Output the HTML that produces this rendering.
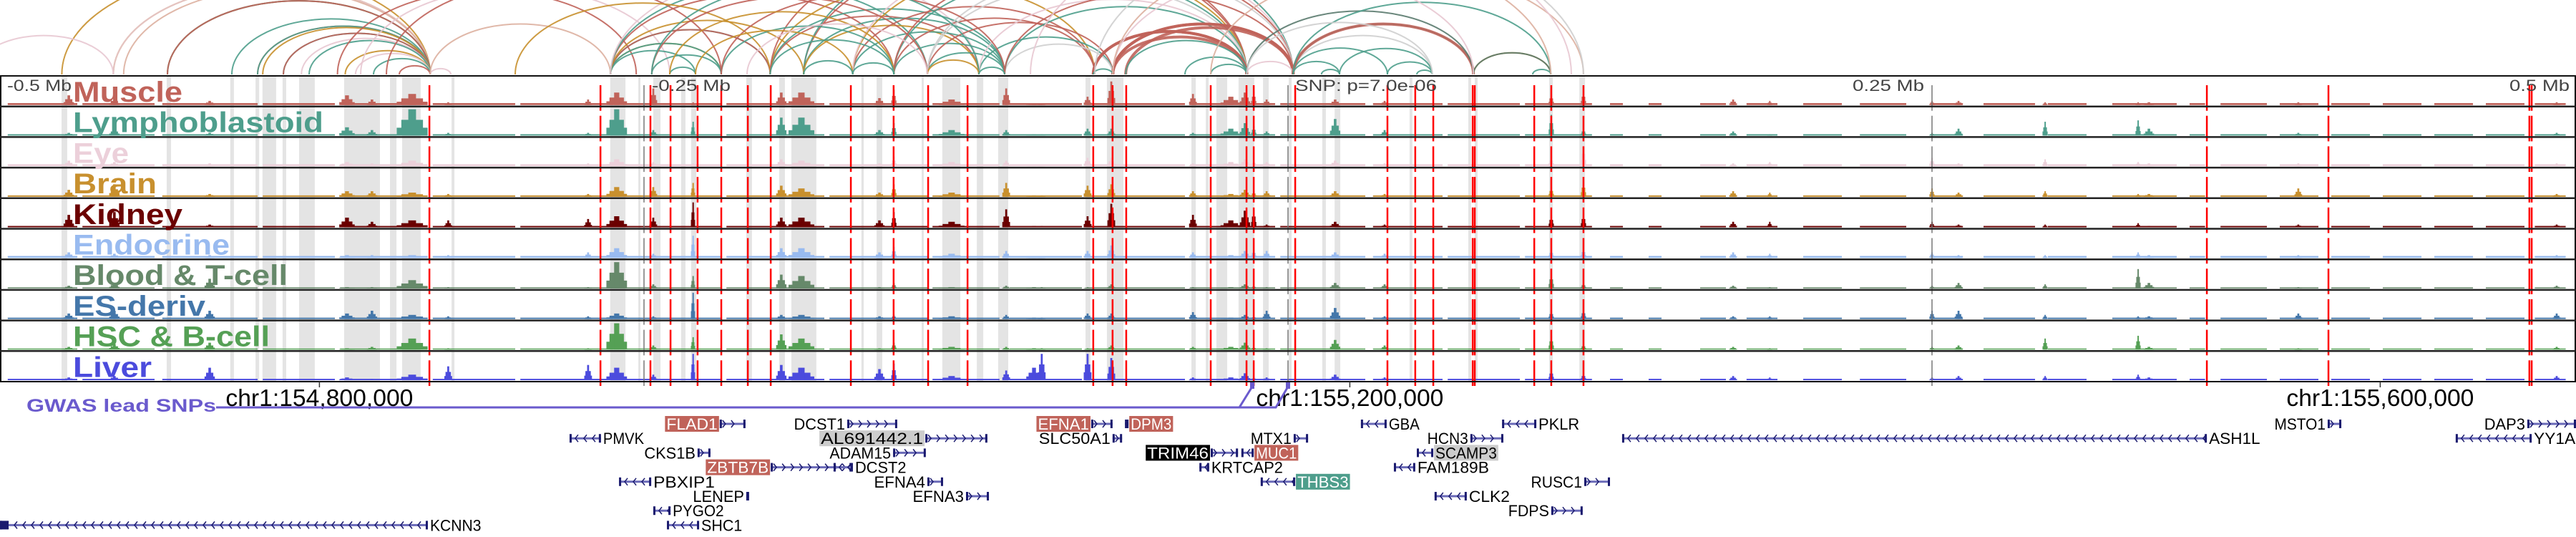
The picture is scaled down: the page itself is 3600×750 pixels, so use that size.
<!DOCTYPE html>
<html><head><meta charset="utf-8">
<style>
html,body{margin:0;padding:0;background:#fff;}
svg{display:block;font-family:"Liberation Sans",sans-serif;}
</style></head>
<body>
<svg id="fig" width="3600" height="750" viewBox="0 0 3600 750" xmlns="http://www.w3.org/2000/svg">
<defs><clipPath id="arcClip"><rect x="0" y="0" width="3600" height="105"/></clipPath></defs>
<g id="arcs" clip-path="url(#arcClip)"></g>
<g id="shade"></g>
<g id="tracks"></g>
<g id="snps"></g>
<g id="frame"></g>
<g id="labels"></g>
<g id="axis"></g>
<g id="genes"></g>
</svg>
<script>
// ---- data (genomic positions in kb relative to the lead SNP) ----
const trackNames = ["Muscle","Lymphoblastoid","Eye","Brain","Kidney","Endocrine","Blood & T-cell","ES-deriv","HSC & B-cell","Liver"];
const trackColors = ["#c0635a","#4e9e8c","#ecd0da","#c8902e","#6b0000","#99bbf0","#66896a","#4477aa","#55a055","#4b4bdd"];
const labelWidths = [153,350,78,117,153,219,300,185,275,110];
const bgLevel = [0.07,0.05,0.07,0.05,0.05,0.07,0.04,0.05,0.04,0.05];
const bgSegments = [[-497,-470],[-468,-440],[-437,-400],[-398,-370],[-368,-334],[-332,-300],[-298,-262],[-258,-220],[-218,-180],[-178,-140],[-138,-112],[-108,-80],[-78,-40],[-38,-5],[-3,30],[33,60],[62,90],[92,118],
 [125,130],[140,145],[160,170],[178,190],[200,215],[222,240],[250,262],[270,290],[295,310],[320,345],[350,356],[362,380],[385,400],[405,420],[425,440],[445,460],[465,480],[484,496]];
const peakPos = [-473.3,-455.6,-418.6,-365.3,-355.6,-340,-326,-271.7,-260.6,-246.4,-231,-196.7,-188.9,-158.6,-153,-130.6,-109.4,-98.6,-95.6,-77.8,-68.6,-36.9,-22.2,-16.7,-13.3,-8.3,18.3,37.5,102.2,114.7,172.8,187,250,260.3,293.9,330,334.2,392.2,492.5];
const peakWidth = [2,2,2,3,2,6,1.5,1.5,4,1.5,0.8,2,5,2,1,5,1.5,3,1.5,1.5,1.5,1.5,4,2,1,1.5,2,1.5,1,1,1.5,1,1,1.5,1,1,2,1.5,1.5];
const peakHeights = [
[.35,.1,.2,.25,.45,.2,.1,.2,.1,.1],
[.25,.25,.15,.45,.55,.15,.2,.3,.2,.15],
[.15,.1,.1,.1,.1,.1,.35,.3,.25,.45],
[.35,.3,.15,.2,.35,.1,.05,.2,.05,.1],
[.2,.2,.1,.2,.2,.1,.05,.3,.1,.05],
[.4,.95,.2,.15,.25,.1,.3,.15,.4,.2],
[.1,.1,.05,.1,.25,.1,.05,.1,.05,.5],
[.2,.1,.1,.1,.3,.2,.05,.1,.05,.55],
[.45,.95,.25,.35,.4,.35,.95,.2,.95,.45],
[.6,.2,.15,.35,.35,.15,.15,.1,.15,.2],
[.1,.5,.1,.5,.9,.8,.45,.95,.45,.95],
[.45,.65,.25,.4,.35,.35,.5,.15,.55,.55],
[.45,.65,.2,.3,.35,.35,.45,.15,.4,.45],
[.25,.2,.1,.15,.25,.2,.05,.1,.05,.4],
[.55,.45,.35,.45,.55,.4,.2,.15,.25,.6],
[.2,.2,.15,.15,.2,.15,.05,.1,.1,.15],
[.6,.2,.2,.5,.65,.25,.1,.15,.1,.35],
[.05,.05,.05,.05,.05,.05,.05,.05,.05,.45],
[.05,.05,.05,.05,.05,.05,.05,.05,.05,.95],
[.3,.25,.3,.4,.4,.25,.05,.2,.05,.95],
[.85,.25,.3,.45,.85,.45,.15,.2,.15,.8],
[.4,.1,.1,.2,.45,.2,.05,.25,.1,.1],
[.3,.25,.15,.1,.25,.1,.05,.05,.1,.1],
[.45,.45,.25,.25,.6,.25,.15,.15,.25,.25],
[.5,.35,.2,.2,.65,.3,.1,.1,.1,.1],
[.2,.15,.15,.2,.1,.25,.05,.3,.05,.1],
[.2,.6,.2,.2,.2,.2,.2,.4,.35,.2],
[.15,.2,.1,.1,.1,.15,.15,.1,.15,.1],
[.4,.75,.35,.35,.45,.3,.55,.3,.5,.4],
[.5,.25,.75,.55,.5,.35,.2,.35,.2,.25],
[.2,.15,.1,.2,.2,.2,.1,.1,.1,.15],
[.15,.05,.15,.15,.2,.15,.05,.1,.05,.1],
[.15,.1,.3,.3,.2,.2,.1,.3,.1,.1],
[.15,.25,.1,.15,.1,.1,.2,.3,.15,.15],
[.1,.5,.25,.2,.1,.1,.15,.15,.4,.15],
[.1,.55,.15,.1,.15,.2,.7,.1,.5,.2],
[.1,.25,.1,.1,.05,.1,.2,.1,.1,.1],
[.1,.1,.1,.3,.1,.1,.05,.2,.05,.05],
[.1,.1,.1,.1,.1,.1,.1,.2,.1,.15]];
const snpPos = [-333.3,-266.9,-247.5,-239.7,-229.2,-220,-209.7,-200.8,-169.7,-153.1,-139.7,-124.4,-75.6,-68.1,-62.8,-30,-16.1,-13.3,2.8,38.6,49.4,56.4,71.7,72.5,95.6,102.2,114.7,356.7,403.9,481.9,482.8];
const refLines = [-250,0,250];
const shadeRanges = [[-476.1,-473.9],[-435.3,-433.6],[-410.6,-409.2],[-400.8,-399.4],[-398.1,-392.8],[-390.3,-388.9],[-383.9,-377.8],[-366.4,-352.5],[-348.6,-346.1],[-343.9,-336.7],[-324.7,-323.6],[-263.1,-257.2],[-252.2,-251.4],[-246.4,-243.6],[-235.6,-233.9],[-231.7,-229.7],[-210.3,-208.1],[-197.5,-195.3],[-192.8,-183.1],[-165.6,-164.7],[-159.7,-157.5],[-142.2,-141.4],[-134.2,-127.2],[-120.8,-118.3],[-112.5,-108.6],[-78.6,-76.7],[-70.3,-63.9],[-37.5,-35.8],[-31.9,-30.8],[-27.8,-23.6],[-19.2,-13.1],[-9.7,-7.5],[0.3,1.4],[13.3,14.7],[18.1,20.3],[47.2,48.3],[70,71.1],[72.5,73.6],[101.4,102.8],[113.1,115.3]];
const arcColors = ["#c0635a","#4e9e8c","#e8c8d2","#c8902e","#cfcfcf","#5a7a6e","#ddb0a0"];
const arcStart = [-476,-456,-456,-452,-435,-435,-435,-410,-400,-400,-398,-390,-390,-383,-380,-366,-362,-355,-345,-333,-333,-369,-510,-360,
 -263,-263,-263,-263,-263,-247,-240,-263,-263,-263,-263,-350,-300,
 -201,-201,-201,-201,-188,-188,-188,-188,-169,-169,-169,-169,-153,-153,-153,-153,-140,-140,-140,-140,-120,-120,-110,-110,-110,-75.6,-75.6,-68,-68,-63,-68,-63,-40,-30,-16,-220,-220,-230,-240,-247,-247,-201,-188,-169,-140,-120,-75.6,-210,
 2,2,2,2,-16,2,-30,-75,38.6,13,2,20,50,72,72,95,-16,-68,-100,-68];
const arcEnd = [-333,-333,-333,-333,-333,-333,-333,-333,-333,-333,-333,-333,-333,-333,-333,-333,-333,-333,-333,-325,-263,-253,-456,-240,
 -220,-220,-201,-201,-230,-220,-230,-188,-153,-140,-120,-220,-201,
 -120,-110,-75,-16,-16,2,-110,-120,-110,-75,-16,2,-110,-75,-16,2,-110,-68,-16,2,-68,-16,-68,-16,2,-16,-16,2,-16,2,2,-16,-16,-16,2,-153,-110,-169,-153,-140,-120,-153,-169,-153,-120,-110,-68,-140,
 56,38.6,72,72,72,102,114.7,114.7,56,20,20,56,56,102,102,102,56,72,110,102];
const arcColor = [3,3,2,6,3,1,0,1,0,1,3,1,0,2,1,3,2,1,0,2,6,0,2,2,
 3,1,1,0,1,1,1,3,0,1,2,0,3,
 0,1,3,0,0,1,1,3,1,0,3,2,1,0,1,0,1,0,4,4,1,2,4,1,0,0,0,0,0,0,0,1,1,1,2,1,0,3,3,0,1,1,1,1,3,1,1,2,
 4,1,1,0,5,1,6,4,1,1,1,1,1,3,5,1,4,2,2,6];
const geneNames = ["FLAD1","DCST1","EFNA1","DPM3","GBA","PKLR","MSTO1","DAP3","PMVK","AL691442.1","SLC50A1","MTX1","HCN3","ASH1L","YY1AP1","CKS1B","ADAM15","TRIM46","MUC1","SCAMP3","ZBTB7B","DCST2","KRTCAP2","FAM189B","PBXIP1","EFNA4","THBS3","RUSC1","LENEP","EFNA3","CLK2","PYGO2","FDPS","KCNN3","SHC1"];
const geneRow = [0,0,0,0,0,0,0,0,1,1,1,1,1,1,1,2,2,2,2,2,3,3,3,3,4,4,4,4,5,5,5,6,6,7,7];
const geneStart = [-220.6,-171.1,-76.4,-63.3,28.3,83.1,403.6,481.1,-278.9,-140.8,-68.1,2.2,70.8,129.7,453.3,-229.2,-153.3,-30,-18.1,50,-200.8,-176.4,-34.4,41.1,-259.7,-140,-10.6,115,-210.3,-125,56.9,-246.4,102.2,-500,-241.1];
const geneEnd = [-210.6,-151.7,-68.1,-61.9,38.3,96.4,408.9,500,-266.7,-116.7,-64.4,7.8,83.6,356.7,482.8,-224.2,-140.6,-19.4,-13.3,56.4,-169.4,-168.9,-30.6,49.4,-247.2,-133.9,2.8,125,-209.2,-116.1,69.4,-239.7,114.4,-333.9,-228.6];
const geneStrand = ["+","+","+","+","-","-","+","+","-","+","+","+","+","-","-","+","+","+","-","-","+","-","-","-","-","+","-","+","+","+","-","-","+","-","-"];
const geneBox = ["r","","r","r","","","","","","g","","","","","","","","k","r","g","r","","","","","","t","","","","","","","",""];
const tickPos = [-376,24,424];
const tickLabels = ["chr1:154,800,000","chr1:155,200,000","chr1:155,600,000"];

// ---- scales ----
const NS="http://www.w3.org/2000/svg";
const X0=1800, PXKB=3.6;
function xs(kb){return X0+kb*PXKB;}
const TT=106, TH=42.7, NT=10, PW=3599;
function ty(i){return TT+i*TH;}
function mk(tag,attrs,parent){const e=document.createElementNS(NS,tag);for(const k in attrs)e.setAttribute(k,attrs[k]);parent.appendChild(e);return e;}
const G=id=>document.getElementById(id);

// arcs
const arcsG=G("arcs");
for(let i=0;i<arcStart.length;i++){
  const a=xs(arcStart[i]),b=xs(arcEnd[i]);const r=Math.abs(b-a)/2;const ry=r*0.56;const base=104;
  const p=mk("path",{d:`M${a},${base} A${r},${ry} 0 0 1 ${b},${base}`,fill:"none",stroke:arcColors[arcColor[i]],"stroke-width":arcColor[i]===0&&arcEnd[i]>-20&&arcStart[i]>-80?4:2,opacity:0.9},arcsG);
  
  
}
// shaded columns
const shG=G("shade");
shadeRanges.forEach(s=>{const r=mk("rect",{x:xs(s[0]),y:TT,width:Math.max(2,xs(s[1])-xs(s[0])),height:TH*NT,fill:"#e4e4e4"},shG);
  
  });
// tracks
const trG=G("tracks");
for(let t=0;t<NT;t++){
  const g=mk("g",{},trG);
  
  
  const bot=ty(t+1)-2, hmax=TH-4;
  bgSegments.forEach(s=>{const h=bgLevel[t]*hmax;mk("rect",{x:xs(s[0]),y:bot-h,width:xs(s[1])-xs(s[0]),height:h,fill:trackColors[t]},g);});
  for(let p=0;p<peakPos.length;p++){
    const hv=peakHeights[p][t]*hmax, w=peakWidth[p]*PXKB;
    const c=xs(peakPos[p]);
    mk("rect",{x:c-w,y:bot-hv*0.3,width:w*2,height:hv*0.3,fill:trackColors[t]},g);
    mk("rect",{x:c-w*0.7,y:bot-hv*0.6,width:w*1.4,height:hv*0.6,fill:trackColors[t]},g);
    const bar=mk("rect",{x:c-w/4,y:bot-hv,width:Math.max(2,w/2),height:hv,fill:trackColors[t]},g);
    
    
  }
}
// snp lines
const snG=G("snps");
for(let t=0;t<NT;t++){
  snpPos.forEach(s=>{mk("line",{x1:xs(s),x2:xs(s),y1:ty(t)+13,y2:ty(t+1)+6,stroke:"#ff0000","stroke-width":2.5},snG);});
  refLines.forEach(s=>{mk("line",{x1:xs(s),x2:xs(s),y1:ty(t)+13,y2:ty(t+1)+6,stroke:"#777","stroke-width":1.5},snG);});
}
// frames
const frG=G("frame");
mk("rect",{x:1,y:TT,width:PW-1,height:TH*NT,fill:"none",stroke:"#111","stroke-width":2},frG);
for(let t=1;t<NT;t++) mk("line",{x1:0,x2:PW,y1:ty(t),y2:ty(t),stroke:"#222","stroke-width":2.5},frG);
// labels
const lbG=G("labels");
trackNames.forEach((n,t)=>{const e=mk("text",{x:102,y:ty(t)+36,"font-size":40,"font-weight":"bold",fill:trackColors[t],textLength:labelWidths[t],lengthAdjust:"spacingAndGlyphs"},lbG);e.textContent=n;
  
  });
// axis
const axG=G("axis");
[["-0.5 Mb",10,90,"start"],["-0.25 Mb",911,110,"start"],["SNP: p=7.0e-06",1810,198,"start"],["0.25 Mb",2589,100,"start"],["0.5 Mb",3507,84,"start"]].forEach(a=>{
  const e=mk("text",{x:a[1],y:127,"font-size":22,fill:"#444",textLength:a[2],lengthAdjust:"spacingAndGlyphs"},axG);e.textContent=a[0];
  
  });
tickPos.forEach((p,i)=>{const x=xs(p);mk("line",{x1:x,x2:x,y1:533,y2:541,stroke:"#333","stroke-width":1.5},axG);
  const e=mk("text",{x:x-131,y:567,"font-size":33,fill:"#000",textLength:262,lengthAdjust:"spacingAndGlyphs"},axG);e.textContent=tickLabels[i];
  
  });
// GWAS
const gw=mk("text",{x:37,y:575,"font-size":25,"font-weight":"bold",fill:"#6a5acd",textLength:265,lengthAdjust:"spacingAndGlyphs"},axG);gw.textContent="GWAS lead SNPs";


mk("polyline",{points:"302,569 1732,569 1750,540",fill:"none",stroke:"#6a5acd","stroke-width":3},axG);
mk("polyline",{points:"1732,569 1783,569 1800,540",fill:"none",stroke:"#6a5acd","stroke-width":3},axG);
mk("rect",{x:1747,y:534,width:6,height:9,fill:"#6a5acd"},axG);
mk("rect",{x:1797,y:534,width:6,height:9,fill:"#6a5acd"},axG);
// genes
const gnG=G("genes");
const boxCol={r:"#c0635a",g:"#cccccc",k:"#000",t:"#4e9e8c"};
for(let i=0;i<geneNames.length;i++){
  const g=mk("g",{},gnG);
  
  
  const y=592+geneRow[i]*20.2, a=xs(geneStart[i]), b=Math.min(3600,xs(geneEnd[i]));
  mk("line",{x1:a,x2:b,y1:y,y2:y,stroke:"#6a6ab8","stroke-width":3},g);
  mk("rect",{x:a,y:y-6,width:3,height:12,fill:"#1a1a6e"},g);
  mk("rect",{x:b-3,y:y-6,width:3,height:12,fill:"#1a1a6e"},g);
  if(geneNames[i]==="KCNN3"){mk("rect",{x:a,y:y-6,width:12,height:12,fill:"#1a1a6e"},g);}
  for(let cx=a+8;cx<b-4;cx+=12){const d=geneStrand[i]==="+"?-4:4;
    mk("polyline",{points:`${cx+d},${y-5} ${cx},${y} ${cx+d},${y+5}`,fill:"none",stroke:"#1a1a6e","stroke-width":1.5},g);}
  const txt=geneNames[i]; const tw=txt.length*14.3;
  const labelLeft = geneStrand[i]==="+" ? !(txt==="DPM3") : false;
  const tx = labelLeft ? a-3-tw : b+3;
  if(geneBox[i]){mk("rect",{x:tx-2,y:y-11,width:tw+4,height:22,fill:boxCol[geneBox[i]]},g);}
  const e=mk("text",{x:tx,y:y+8,"font-size":22,fill:(geneBox[i]==="r"||geneBox[i]==="k"||geneBox[i]==="t")?"#fff":"#000",textLength:tw,lengthAdjust:"spacingAndGlyphs"},g);
  e.textContent=txt;
}
</script>
</body></html>
